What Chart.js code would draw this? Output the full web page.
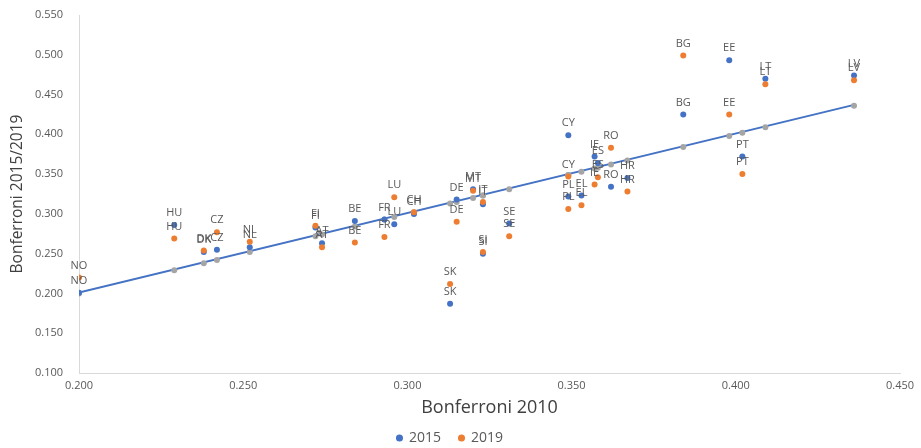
<!DOCTYPE html>
<html>
<head>
<meta charset="utf-8">
<script src="https://cdn.jsdelivr.net/npm/chart.js@4.4.0/dist/chart.umd.min.js"></script>
<style>
  html, body { margin: 0; padding: 0; background: #ffffff; }
  #wrap { width: 921px; height: 448px; position: relative; }
</style>
</head>
<body>
<div id="wrap"><canvas id="chart"></canvas></div>
<script>
// Country codes, in the same order as the value arrays below
const countries = ['NO','HU','DK','CZ','NL','FI','AT','BE','FR','LU','CH','DE','SK','MT','IT','SI','SE',
                   'CY','PL','EL','IE','ES','RO','HR','BG','EE','PT','LT','LV'];

// Bonferroni index, 2010 (horizontal axis and the grey reference points)
const bonferroni2010 = [0.200,0.229,0.238,0.242,0.252,0.272,0.274,0.284,0.293,0.296,0.302,0.315,0.313,0.320,0.323,0.323,0.331,
                        0.349,0.349,0.353,0.357,0.358,0.362,0.367,0.384,0.398,0.402,0.409,0.436];

// Bonferroni index, 2015
const bonferroni2015 = [0.201,0.286,0.252,0.255,0.258,0.283,0.263,0.291,0.293,0.287,0.300,0.318,0.187,0.331,0.312,0.250,0.288,
                        0.399,0.322,0.323,0.372,0.364,0.334,0.345,0.425,0.493,0.372,0.470,0.474];

// Bonferroni index, 2019
const bonferroni2019 = [0.220,0.269,0.254,0.277,0.265,0.285,0.258,0.264,0.271,0.321,0.302,0.290,0.212,0.329,0.315,0.252,0.272,
                        0.347,0.306,0.311,0.337,0.346,0.383,0.328,0.499,0.425,0.350,0.463,0.468];

// Linear trend through the 2010 values (end points)
const trendX = [0.200, 0.436];
const trendY = [0.201, 0.437];

// Axis ranges
const xRange = [0.200, 0.450];
const yRange = [0.100, 0.550];
const tickStep = 0.05;

const toPoints = (xs, ys) => xs.map((x, i) => ({ x: x, y: ys[i] }));

const BLUE = '#4472C4';
const ORANGE = '#ED7D31';
const GREY = '#A5A5A5';
const TEXT = '#595959';
const AXIS = '#D9D9D9';

// Writes the country code just above every 2015 and 2019 marker
const countryLabels = {
  id: 'countryLabels',
  afterDatasetsDraw(chart) {
    const ctx = chart.ctx;
    ctx.save();
    ctx.font = '11px "Open Sans", sans-serif';
    ctx.fillStyle = TEXT;
    ctx.textAlign = 'center';
    ctx.textBaseline = 'middle';
    chart.data.datasets.forEach((ds, di) => {
      if (!ds.showCodes) return;
      const meta = chart.getDatasetMeta(di);
      meta.data.forEach((el, i) => {
        ctx.fillText(countries[i], el.x, el.y - 12);
      });
    });
    ctx.restore();
  }
};

// Axis without gridlines: invisible tick marks only reserve space before the labels
const hiddenGrid = (len) => ({
  display: true,
  drawOnChartArea: false,
  drawTicks: true,
  tickLength: len,
  tickColor: 'rgba(0,0,0,0)',
  color: 'rgba(0,0,0,0)'
});

new Chart(document.getElementById('chart'), {
  type: 'scatter',
  data: {
    datasets: [
      {
        label: 'Trend',
        type: 'line',
        data: toPoints(trendX, trendY),
        borderColor: BLUE,
        borderWidth: 2,
        pointRadius: 0,
        fill: false,
        order: 4
      },
      {
        label: '2010',
        data: toPoints(bonferroni2010, bonferroni2010),
        backgroundColor: GREY,
        borderColor: GREY,
        pointRadius: 3,
        borderWidth: 0,
        order: 3
      },
      {
        label: '2015',
        data: toPoints(bonferroni2010, bonferroni2015),
        backgroundColor: BLUE,
        borderColor: BLUE,
        pointRadius: 3,
        borderWidth: 0,
        showCodes: true,
        order: 2
      },
      {
        label: '2019',
        data: toPoints(bonferroni2010, bonferroni2019),
        backgroundColor: ORANGE,
        borderColor: ORANGE,
        pointRadius: 3,
        borderWidth: 0,
        showCodes: true,
        order: 1
      }
    ]
  },
  options: {
    responsive: true,
    maintainAspectRatio: false,
    animation: false,
    layout: { padding: { left: 0, right: 21, top: 15, bottom: -7 } },
    plugins: {
      tooltip: { enabled: false },
      legend: {
        position: 'bottom',
        labels: {
          filter: (item) => item.text === '2015' || item.text === '2019',
          sort: (a, b) => a.datasetIndex - b.datasetIndex,
          usePointStyle: true,
          pointStyle: 'circle',
          boxWidth: 5,
          boxHeight: 5,
          color: TEXT,
          padding: 18,
          font: { family: '"Open Sans", sans-serif', size: 14 }
        }
      }
    },
    scales: {
      x: {
        type: 'linear',
        min: xRange[0],
        max: xRange[1],
        grid: hiddenGrid(4),
        border: { display: true, color: AXIS, width: 1 },
        ticks: {
          stepSize: tickStep,
          padding: 2,
          color: TEXT,
          font: { family: '"Open Sans", sans-serif', size: 11 },
          callback: (v) => Number(v).toFixed(3)
        },
        title: {
          display: true,
          text: 'Bonferroni 2010',
          color: '#404040',
          padding: { top: 0, bottom: -6 },
          font: { family: '"Open Sans", sans-serif', size: 18 }
        },
        afterFit: (scale) => { scale.height = 40; }
      },
      y: {
        type: 'linear',
        min: yRange[0],
        max: yRange[1],
        grid: hiddenGrid(16),
        border: { display: true, color: AXIS, width: 1 },
        ticks: {
          stepSize: tickStep,
          padding: 0,
          color: TEXT,
          font: { family: '"Open Sans", sans-serif', size: 11 },
          callback: (v) => Number(v).toFixed(3)
        },
        title: {
          display: true,
          text: 'Bonferroni 2015/2019',
          color: '#404040',
          padding: { top: 8, bottom: 0 },
          font: { family: '"Open Sans", sans-serif', size: 15.5 }
        },
        afterFit: (scale) => { scale.width = 79; }
      }
    }
  },
  plugins: [countryLabels]
});
</script>
</body>
</html>
